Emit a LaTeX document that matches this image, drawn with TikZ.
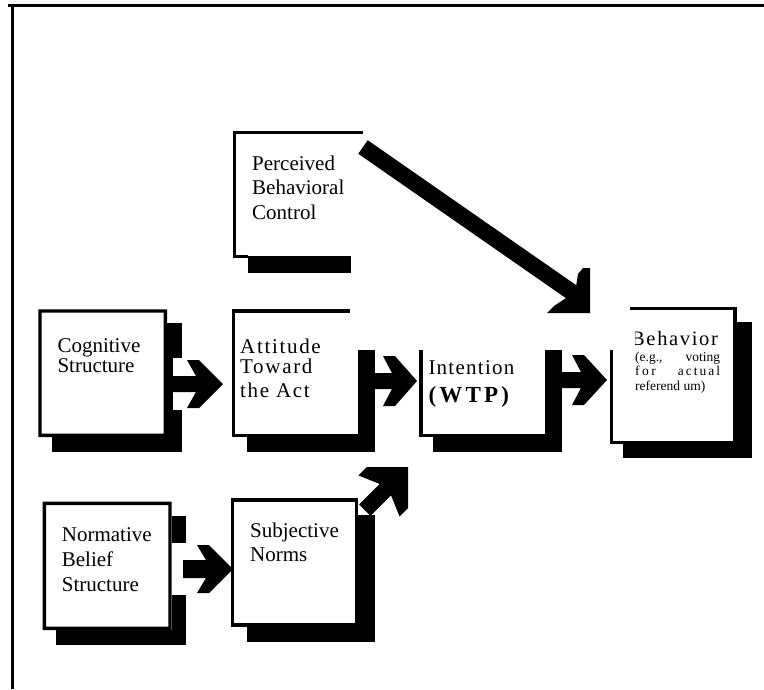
\documentclass[tikz,border=0pt]{standalone}
\usepackage{fontspec}
\setmainfont{Liberation Serif}
\newfontfamily\spacedA[LetterSpace=8]{Liberation Serif}
\newfontfamily\spacedI[LetterSpace=6]{Liberation Serif}
\newfontfamily\spacedW[LetterSpace=14]{Liberation Serif}
\newfontfamily\spacedB[LetterSpace=8]{Liberation Serif}
% block arrow: #1 tip, #2 angle, #3 total length, #4 white-back length, #5 head length, #6 head half-width, #7 shaft half-width
\newcommand{\blockarrow}[7]{%
  \begin{scope}[shift={(#1)}, rotate=#2]
    \ifdim #4pt>0pt \fill[white] (-#4,{-#6-2}) rectangle (0,{#6+2}); \fi
    \fill[black] (-#3,-#7) -- ({-#5+9},-#7) -- (-#5,-#6) -- ({-#5+12},-#6) -- (0,0)
      -- ({-#5+12},#6) -- (-#5,#6) -- ({-#5+9},#7) -- (-#3,#7) -- cycle;
  \end{scope}}
\newcommand{\fullframe}[4]{%
  \fill[even odd rule] (#1,#2) rectangle (#3,#4) ({#1+3.3},{#2+3.3}) rectangle ({#3-3.3},{#4-3.3});}
\begin{document}
\begin{tikzpicture}[x=1pt,y=-1pt,
  txt/.style={anchor=base west, inner sep=0pt, font=\fontsize{21}{25}\selectfont},
  small/.style={anchor=base west, inner sep=0pt, font=\fontsize{13.5}{15}\selectfont}]
\useasboundingbox (0,0) rectangle (764,689);
\fill[white] (0,0) rectangle (764,689);
% outer frame
\fill (8,4) rectangle (764,7);
\fill (11,4) rectangle (14,689);

% shadows
\fill (248.3,256) rectangle (351,272.7);
\fill (167,323.3) rectangle (182.3,452); \fill (52.3,437) rectangle (182.3,452);
\fill (358.3,350) rectangle (375,452); \fill (246.7,437) rectangle (375,452);
\fill (545,350) rectangle (561.7,451.7); \fill (433.3,437) rectangle (561.7,451.7);
\fill (736.7,321.7) rectangle (751.7,458.3); \fill (623.3,444.3) rectangle (751.7,458.3);
\fill (171.7,516) rectangle (185.7,645); \fill (55.7,630) rectangle (185.7,645);
\fill (358.3,515) rectangle (375,641.7); \fill (246.7,626.7) rectangle (375,641.7);

% arrow tips
\coordinate (t1) at (223,384);
\coordinate (t2) at (417,381);
\coordinate (t3) at (607,380);
\coordinate (t4) at (233,569);
\coordinate (t5) at (408,467);
\coordinate (p0) at (363,147);
\coordinate (p1) at (573,293);

% block arrows
\blockarrow{t1}{0}{50}{50}{36}{24}{8}
\blockarrow{t2}{0}{42}{42}{34}{25}{8}
\blockarrow{t3}{0}{45}{45}{35}{25}{8}
\blockarrow{t4}{0}{50}{61}{36}{24}{9}
\blockarrow{t5}{45}{61}{0}{41}{29}{8}
% long arrow from Perceived Behavioral Control to Behavior
\draw[line width=16.5pt] (p0) -- (p1);
\fill (578,274) -- (583,268) -- (590,268) -- (590,313) -- (547,313) -- (554,306)
  -- (566,298) -- (576,287) -- cycle;

% box borders
\fill (233,130.7) rectangle (363,134); \fill (233,130.7) rectangle (236.3,258);
\fill (233,254.7) rectangle (248.3,258);
\fullframe{38.3}{309.3}{167}{437}
\fill (232,309.3) rectangle (350,312.7); \fill (232,309.3) rectangle (235.3,437);
\fill (232,433.7) rectangle (358.3,437);
\fill (419.3,350) rectangle (422.7,437); \fill (419.3,433.7) rectangle (545,437);
\fill (630,306.7) rectangle (736.7,310); \fill (733.4,306.7) rectangle (736.7,444.3);
\fill (610,350) rectangle (613.3,444.3); \fill (610,441) rectangle (736.7,444.3);
\fullframe{42.7}{501.7}{171.7}{630}
\fill (231,498.3) rectangle (358.3,501.7); \fill (231,498.3) rectangle (234.3,626.7);
\fill (355,498.3) rectangle (358.3,626.7); \fill (231,623.3) rectangle (358.3,626.7);

% texts
\node[txt] (pbc1) at (252,170) {Perceived};
\node[txt] (pbc2) at (252,194.5) {Behavioral};
\node[txt] (pbc3) at (252,219.3) {Control};
\node[txt] (cog1) at (57.3,352) {Cognitive};
\node[txt] (cog2) at (57.3,372.7) {Structure};
\node[txt,font=\fontsize{21}{25}\spacedA] (att1) at (240,353) {Attitude};
\node[txt,font=\fontsize{21}{25}\spacedA] (att2) at (240,373) {Toward};
\node[txt,font=\fontsize{21}{25}\spacedA] (att3) at (240,397) {the Act};
\node[txt,font=\fontsize{21}{25}\spacedI] (int1) at (428.3,374.3) {Intention};
\node[txt,font=\fontsize{23}{25}\spacedW\bfseries] (int2) at (428.3,402.3) {(WTP)};
\begin{scope}
  \clip (635,318) rectangle (740,350);
  \node[txt,font=\fontsize{20.5}{25}\spacedB] (beh1) at (631,345) {Behavior};
\end{scope}
\node[small] (beh2) at (635,361) {\makebox[85pt][s]{(e.g., voting}};
\node[small] (beh3) at (635,375.5) {\makebox[85pt][s]{f\kern2.5pt o\kern2.5pt r\hfill a\kern2pt c\kern2pt t\kern2pt u\kern2pt a\kern2pt l}};
\node[small] (beh4) at (635,390.5) {referend um)};
\node[txt] (nor1) at (61.7,541.3) {Normative};
\node[txt] (nor2) at (61.7,566.7) {Belief};
\node[txt] (nor3) at (61.7,591.7) {Structure};
\node[txt] (sub1) at (250,537.3) {Subjective};
\node[txt] (sub2) at (250,561.7) {Norms};
\end{tikzpicture}
\end{document}
